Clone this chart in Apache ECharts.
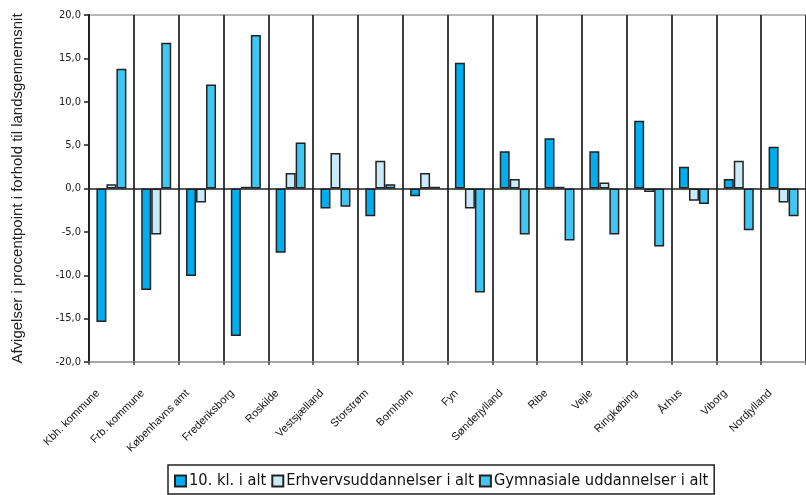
<!DOCTYPE html>
<html>
<head>
<meta charset="utf-8">
<script src="https://cdn.jsdelivr.net/npm/echarts@6/dist/echarts.min.js"></script>
<style>html,body{margin:0;padding:0;background:#fff}#c{width:806px;height:495px}</style>
</head>
<body>
<div id="c"></div>
<script>
var categories = ["Kbh. kommune","Frb. kommune","Københavns amt","Frederiksborg","Roskilde","Vestsjælland","Storstrøm","Bornholm","Fyn","Sønderjylland","Ribe","Vejle","Ringkøbing","Århus","Viborg","Nordjylland"];
var seriesNames = ["10. kl. i alt","Erhvervsuddannelser i alt","Gymnasiale uddannelser i alt"];
var kl10 = [-15.4,-11.7,-10.1,-17.0,-7.4,-2.3,-3.2,-0.9,14.5,4.3,5.8,4.3,7.8,2.5,1.1,4.8];
var erhverv = [0.5,-5.3,-1.6,0.2,1.8,4.1,3.2,1.8,-2.3,1.1,0.2,0.7,-0.4,-1.4,3.2,-1.6];
var gymnasial = [13.8,16.8,12.0,17.7,5.3,-2.1,0.5,0.2,-12.0,-5.3,-6.0,-5.3,-6.7,-1.8,-4.8,-3.2];
var yTicks = {min:-20,max:20,interval:5};
var yName = "Afvigelser i procentpoint i forhold til landsgennemsnit";

var colors = ["#00adee","#c9eaf9","#40c6f2"];
var narrow = "'Liberation Sans Narrow','DejaVu Sans Condensed','Liberation Sans',sans-serif";
var chart = echarts.init(document.getElementById('c'), null, {renderer:'canvas'});
var data = [kl10, erhverv, gymnasial];
chart.setOption({
  animation:false,
  backgroundColor:'#fff',
  grid:{left:89,top:15,right:0,bottom:133,show:true,borderColor:'#a0a0a0',borderWidth:1.5},
  legend:{
    bottom:1,left:168,
    data:seriesNames,
    icon:'rect',itemWidth:11,itemHeight:11,itemGap:5,
    borderColor:'#222',borderWidth:1.5,padding:[8,6,5,6],
    textStyle:{fontFamily:narrow,fontSize:16.3,color:'#111',padding:[0,0,0,-2]}
  },
  xAxis:[{
    type:'category',data:categories,
    axisLine:{show:true,onZero:true,lineStyle:{color:'#222',width:1.5}},
    axisTick:{show:false},axisLabel:{show:false},
    splitLine:{show:true,interval:0,lineStyle:{color:'#2a2a2a',width:1.8}}
  },{
    type:'category',data:categories,position:'bottom',
    axisLine:{show:true,onZero:false,lineStyle:{color:'#a0a0a0',width:1.5}},
    axisTick:{show:true,interval:0,length:3,lineStyle:{color:'#444',width:1.5}},
    axisLabel:{rotate:45,margin:16,fontFamily:"'Liberation Sans',Arial,sans-serif",fontSize:11,color:'#111',padding:[0,19,0,0],interval:0},
    splitLine:{show:false}
  }],
  yAxis:{
    type:'value',min:yTicks.min,max:yTicks.max,interval:yTicks.interval,
    name:yName,nameLocation:'middle',nameGap:64,
    nameTextStyle:{fontFamily:"'Liberation Sans',Arial,sans-serif",fontSize:15,color:'#222'},
    axisLine:{show:true,lineStyle:{color:'#222',width:2}},
    axisTick:{show:true,length:5,lineStyle:{color:'#222',width:1.5}},
    axisLabel:{fontFamily:narrow,fontSize:11,color:'#222',margin:8,
      formatter:function(v){return v.toFixed(1).replace('.',',');}},
    splitLine:{show:false}
  },
  series:seriesNames.map(function(n,i){
    return {name:n,type:'bar',xAxisIndex:0,data:data[i],barWidth:10,barGap:'0%',
      itemStyle:{color:colors[i],borderColor:'#222',borderWidth:1.5}};
  })
});
</script>
</body>
</html>
